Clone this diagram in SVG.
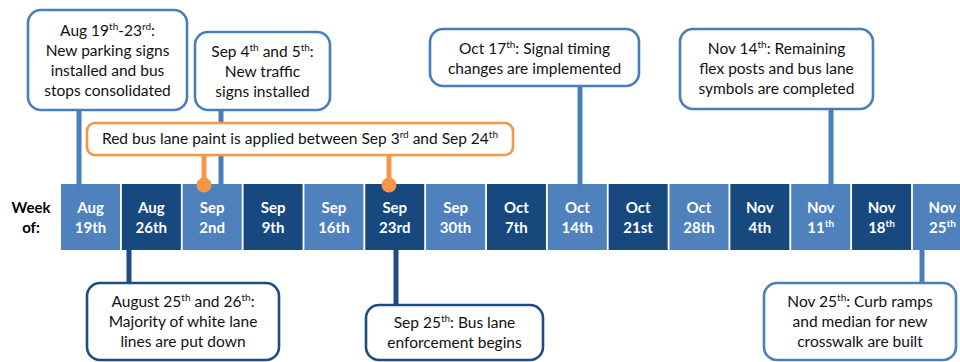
<svg xmlns="http://www.w3.org/2000/svg" width="960" height="362" viewBox="0 0 960 362">
  <style>
    .box { fill: #ffffff; stroke-width: 2.6; }
    .lt { stroke: #4a7ebb; }
    .dk { stroke: #1f4b82; }
    .or { stroke: #f79646; }
    .txt { font-family: Lato, "Liberation Sans", sans-serif; font-size: 15.5px; fill: #111111; text-anchor: middle; }
    .sup { font-size: 10px; }
    .cell-l { fill: #4f81bd; }
    .cell-d { fill: #17487e; }
    .ctxt { font-family: Lato, "Liberation Sans", sans-serif; font-weight: bold; font-size: 15px; fill: #ffffff; text-anchor: middle; }
    .csup { font-size: 10px; }
    .wk { font-family: Lato, "Liberation Sans", sans-serif; font-weight: bold; font-size: 15px; fill: #000000; text-anchor: middle; }
    .ln { fill: none; stroke-width: 5; }
  </style>

  <rect width="960" height="362" fill="#ffffff"/>

  <!-- connectors -->
  <g id="connectors">
    <line class="ln lt" x1="79" y1="110" x2="79" y2="196"/>
    <line class="ln lt" x1="221" y1="110" x2="221" y2="186"/>
    <line class="ln lt" x1="580" y1="86" x2="580" y2="195"/>
    <line class="ln lt" x1="831" y1="109" x2="831" y2="196"/>
    <line class="ln dk" x1="129" y1="248" x2="129" y2="283"/>
    <line class="ln dk" x1="396" y1="248" x2="396" y2="305"/>
    <line class="ln lt" x1="922" y1="248" x2="922" y2="283"/>
  </g>

  <!-- week-of label -->
  <g id="week-label">
    <text class="wk" x="31" y="213">Week</text>
    <text class="wk" x="31" y="233">of:</text>
  </g>

  <!-- timeline cells -->
  <g id="timeline">
    <rect class="cell-l" x="61" y="184" width="59" height="66"/>
    <text class="ctxt" x="90.5" y="213">Aug</text><text class="ctxt" x="90.5" y="233">19th</text>
    <rect class="cell-d" x="121.85" y="184" width="59" height="66"/>
    <text class="ctxt" x="151.35" y="213">Aug</text><text class="ctxt" x="151.35" y="233">26th</text>
    <rect class="cell-l" x="182.7" y="184" width="59" height="66"/>
    <text class="ctxt" x="212.2" y="213">Sep</text><text class="ctxt" x="212.2" y="233">2nd</text>
    <rect class="cell-d" x="243.55" y="184" width="59" height="66"/>
    <text class="ctxt" x="273.05" y="213">Sep</text><text class="ctxt" x="273.05" y="233">9th</text>
    <rect class="cell-l" x="304.4" y="184" width="59" height="66"/>
    <text class="ctxt" x="333.9" y="213">Sep</text><text class="ctxt" x="333.9" y="233">16th</text>
    <rect class="cell-d" x="365.25" y="184" width="59" height="66"/>
    <text class="ctxt" x="394.75" y="213">Sep</text><text class="ctxt" x="394.75" y="233">23rd</text>
    <rect class="cell-l" x="426.1" y="184" width="59" height="66"/>
    <text class="ctxt" x="455.6" y="213">Sep</text><text class="ctxt" x="455.6" y="233">30th</text>
    <rect class="cell-d" x="486.95" y="184" width="59" height="66"/>
    <text class="ctxt" x="516.45" y="213">Oct</text><text class="ctxt" x="516.45" y="233">7th</text>
    <rect class="cell-l" x="547.8" y="184" width="59" height="66"/>
    <text class="ctxt" x="577.3" y="213">Oct</text><text class="ctxt" x="577.3" y="233">14th</text>
    <rect class="cell-d" x="608.65" y="184" width="59" height="66"/>
    <text class="ctxt" x="638.15" y="213">Oct</text><text class="ctxt" x="638.15" y="233">21st</text>
    <rect class="cell-l" x="669.5" y="184" width="59" height="66"/>
    <text class="ctxt" x="699" y="213">Oct</text><text class="ctxt" x="699" y="233">28th</text>
    <rect class="cell-d" x="730.35" y="184" width="59" height="66"/>
    <text class="ctxt" x="759.85" y="213">Nov</text><text class="ctxt" x="759.85" y="233">4th</text>
    <rect class="cell-l" x="791.2" y="184" width="59" height="66"/>
    <text class="ctxt" x="820.7" y="213">Nov</text><text class="ctxt" x="820.7" y="233">11<tspan class="csup" dy="-6">th</tspan></text>
    <rect class="cell-d" x="852.05" y="184" width="59" height="66"/>
    <text class="ctxt" x="881.55" y="213">Nov</text><text class="ctxt" x="881.55" y="233">18<tspan class="csup" dy="-6">th</tspan></text>
    <rect class="cell-l" x="912.9" y="184" width="59" height="66"/>
    <text class="ctxt" x="942.4" y="213">Nov</text><text class="ctxt" x="942.4" y="233">25<tspan class="csup" dy="-6">th</tspan></text>
  </g>

  <!-- connector overlays drawn on top of cells -->
  <g id="connector-tips">
    <line class="ln lt" x1="79" y1="184" x2="79" y2="196" opacity="0.6"/>
    <line class="ln lt" x1="580" y1="184" x2="580" y2="195" opacity="0.6"/>
    <line class="ln lt" x1="831" y1="184" x2="831" y2="196" opacity="0.6"/>
  </g>

  <!-- top events -->
  <g id="ev-aug19">
    <rect class="box lt" x="28" y="10" width="159" height="100" rx="13"/>
    <text class="txt" x="107.5" y="36">Aug 19<tspan class="sup" dy="-6">th</tspan><tspan dy="6">-23</tspan><tspan class="sup" dy="-6">rd</tspan><tspan dy="6">:</tspan></text>
    <text class="txt" x="107.5" y="56">New parking signs</text>
    <text class="txt" x="107.5" y="76">installed and bus</text>
    <text class="txt" x="107.5" y="96">stops consolidated</text>
  </g>

  <g id="ev-sep4">
    <rect class="box lt" x="195" y="32" width="135" height="78" rx="13"/>
    <text class="txt" x="262.5" y="57">Sep 4<tspan class="sup" dy="-6">th</tspan><tspan dy="6"> and 5</tspan><tspan class="sup" dy="-6">th</tspan><tspan dy="6">:</tspan></text>
    <text class="txt" x="262.5" y="77">New traffic</text>
    <text class="txt" x="262.5" y="97">signs installed</text>
  </g>

  <g id="ev-red-paint">
    <line class="ln or" x1="204" y1="155" x2="204" y2="185"/>
    <line class="ln or" x1="389" y1="155" x2="389" y2="185"/>
    <circle cx="204" cy="185" r="7.5" fill="#f79646"/>
    <circle cx="389" cy="185" r="7.5" fill="#f79646"/>
    <rect class="box or" x="87" y="123" width="426" height="32" rx="8"/>
    <text class="txt" x="300" y="144">Red bus lane paint is applied between Sep 3<tspan class="sup" dy="-6">rd</tspan><tspan dy="6"> and Sep 24</tspan><tspan class="sup" dy="-6">th</tspan></text>
  </g>

  <g id="ev-oct17">
    <rect class="box lt" x="430" y="29" width="209" height="57" rx="13"/>
    <text class="txt" x="534.5" y="54">Oct 17<tspan class="sup" dy="-6">th</tspan><tspan dy="6">: Signal timing</tspan></text>
    <text class="txt" x="534.5" y="74">changes are implemented</text>
  </g>

  <g id="ev-nov14">
    <rect class="box lt" x="680" y="29" width="193" height="80" rx="13"/>
    <text class="txt" x="776.5" y="54">Nov 14<tspan class="sup" dy="-6">th</tspan><tspan dy="6">: Remaining</tspan></text>
    <text class="txt" x="776.5" y="74">flex posts and bus lane</text>
    <text class="txt" x="776.5" y="94">symbols are completed</text>
  </g>

  <!-- bottom events -->
  <g id="ev-aug25">
    <rect class="box dk" x="87" y="283" width="192" height="77" rx="13"/>
    <text class="txt" x="183" y="307">August 25<tspan class="sup" dy="-6">th</tspan><tspan dy="6"> and 26</tspan><tspan class="sup" dy="-6">th</tspan><tspan dy="6">:</tspan></text>
    <text class="txt" x="183" y="327">Majority of white lane</text>
    <text class="txt" x="183" y="347">lines are put down</text>
  </g>

  <g id="ev-sep25">
    <rect class="box dk" x="366" y="305" width="177" height="55" rx="13"/>
    <text class="txt" x="454.5" y="328">Sep 25<tspan class="sup" dy="-6">th</tspan><tspan dy="6">: Bus lane</tspan></text>
    <text class="txt" x="454.5" y="348">enforcement begins</text>
  </g>

  <g id="ev-nov25">
    <rect class="box lt" x="764" y="283" width="192" height="77" rx="13"/>
    <text class="txt" x="860" y="307">Nov 25<tspan class="sup" dy="-6">th</tspan><tspan dy="6">: Curb ramps</tspan></text>
    <text class="txt" x="860" y="327">and median for new</text>
    <text class="txt" x="860" y="347">crosswalk are built</text>
  </g>
</svg>
